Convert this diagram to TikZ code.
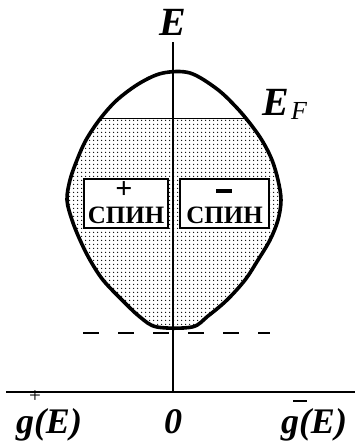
\documentclass[tikz,border=0pt]{standalone}
\usepackage{fontspec}
\setmainfont{Liberation Serif}
\usetikzlibrary{patterns.meta}
\tikzdeclarepattern{
  name=mydots,
  parameters={},
  bounding box={(0pt,0pt) and (4pt,4pt)},
  tile size={(4pt,4pt)},
  code={\fill[black] (2pt,2pt) circle (0.85pt);}
}
\def\shapepath{plot[smooth cycle, tension=0.55] coordinates {
 (163,73) (190,73) (217,89) (237,108) (252,126) (263,142) (272,160) (278,180) (281,200)
 (278,220) (270,240) (258,260) (245,280) (227,300) (208,316) (192,327) (157,327)
 (140,317) (122,300) (103,280) (90,260) (80,240) (72,220) (67,200) (70,180) (77,160)
 (86,140) (100,119) (117,100) (140,83)}}
\begin{document}
\begin{tikzpicture}[x=1pt,y=-1pt,
  lab/.style={font=\fontsize{40}{40}\selectfont\bfseries\itshape, inner sep=0pt},
  botlab/.style={font=\fontsize{36}{36}\selectfont\bfseries\itshape, inner sep=0pt},
  spinbox/.style={draw=black, line width=1.3pt, fill=white, inner sep=0pt},
  spintext/.style={font=\fontsize{25}{25}\selectfont\bfseries, inner sep=0pt},
  signtext/.style={font=\fontsize{30}{30}\selectfont\bfseries, inner sep=0pt},
  smallsign/.style={font=\fontsize{21}{21}\selectfont, inner sep=0pt}]
\useasboundingbox (0,0) rectangle (355,442);
% filled region below Fermi level
\begin{scope}
  \clip (0,118) rectangle (355,442);
  \fill[pattern=mydots] \shapepath;
\end{scope}
\begin{scope}
  \clip \shapepath;
  \draw[line width=1pt] (0,118) -- (355,118);
\end{scope}
% boxes
\node[spinbox, minimum width=84pt, minimum height=49pt] (bl) at (126,203.5) {};
\node[spinbox, minimum width=89pt, minimum height=49pt] (br) at (224.5,203.5) {};
\node[signtext] (pl) at (124,190) {+};
\node[inner sep=0pt] (mi) at (224,191) {\rule{16pt}{4pt}};
\node[spintext, anchor=base] (sl) at (126,223) {СПИН};
\node[spintext, anchor=base] (sr) at (224.5,223) {СПИН};
% axes
\coordinate (ytop) at (173,42);
\coordinate (orig) at (173,392);
\coordinate (xl) at (6,392);
\coordinate (xr) at (355,392);
\draw[line width=1.5pt] (ytop) -- (orig);
\draw[line width=1.5pt] (xl) -- (xr);
% outline
\draw[line width=3.6pt, line join=round] \shapepath;
% dashed bottom line
\coordinate (dl) at (83,333);
\coordinate (dr) at (270,333);
\draw[line width=1.5pt, dash pattern=on 16pt off 19pt] (dl) -- (dr);
% labels
\node[lab, anchor=base] (E) at (173,35) {E};
\node[lab, anchor=base west] (EF) at (262,115) {E};
\node[font=\fontsize{26}{26}\selectfont\itshape, inner sep=0pt, anchor=base west] (F) at (291,119) {F};
\node[botlab, anchor=base] (gp) at (49,433) {g(E)};
\node[botlab, anchor=base] (zero) at (173,433) {0};
\node[botlab, anchor=base] (gm) at (314,433) {g(E)};
\node[smallsign] (plus2) at (35,397) {+};
\node[inner sep=0pt] (minus2) at (300,401) {\rule{14pt}{1.6pt}};
\end{tikzpicture}
\end{document}
